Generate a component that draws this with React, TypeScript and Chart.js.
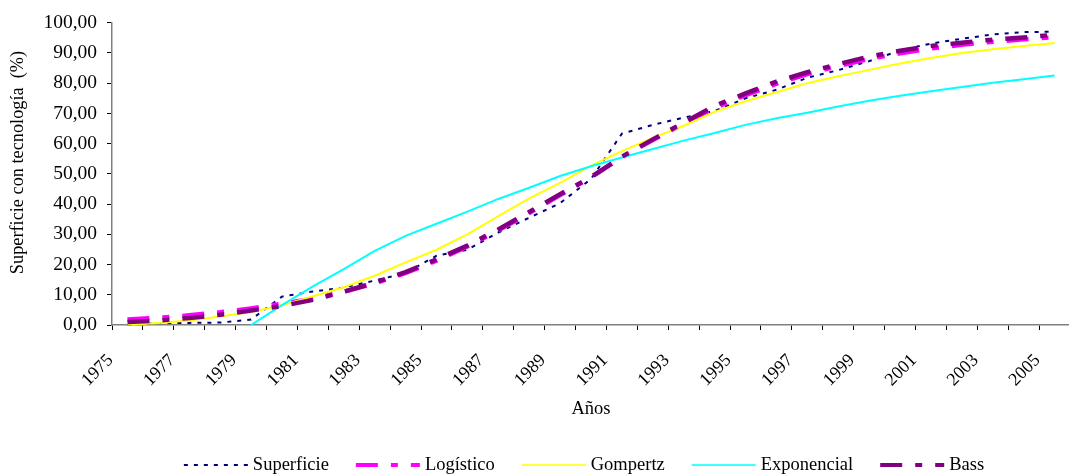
import { useEffect, useRef } from 'react';
import { Chart, registerables } from 'chart.js';

Chart.register(...registerables);

const years = ['1975','1976','1977','1978','1979','1980','1981','1982','1983','1984','1985','1986','1987','1988','1989','1990','1991','1992','1993','1994','1995','1996','1997','1998','1999','2000','2001','2002','2003','2004','2005'];

const superficie = [0, 0.7, 0.7, 0.8, 1.8, 9.4, 11.1, 12.4, 14.7, 17.2, 22.9, 24.9, 30.6, 35.5, 40.3, 48.3, 63.3, 66.2, 68.6, 70.8, 75.0, 77.8, 81.8, 84.3, 87.3, 90.8, 93.1, 94.7, 96.1, 96.9, 97.0];
const logistico = [1.8, 2.4, 3.2, 4.2, 5.5, 7.0, 8.7, 11.0, 13.8, 17.2, 21.3, 26.0, 31.3, 37.0, 43.0, 48.9, 55.5, 61.2, 66.6, 71.8, 76.0, 79.8, 83.0, 85.7, 88.0, 89.9, 91.5, 92.7, 93.7, 94.5, 95.2];
const gompertz = [0.1, 0.7, 1.5, 2.8, 4.3, 6.5, 9.5, 12.5, 16.3, 20.7, 24.9, 30.0, 36.0, 41.9, 47.0, 52.7, 57.5, 61.9, 65.9, 70.5, 74.0, 77.0, 80.0, 82.3, 84.4, 86.5, 88.3, 90.0, 91.2, 92.3, 93.3];
const exponencial = [null, null, null, null, 0, 6.6, 12.8, 18.5, 24.5, 29.5, 33.5, 37.5, 41.7, 45.4, 49.3, 52.5, 55.4, 58.2, 61.0, 63.5, 66.2, 68.4, 70.2, 72.3, 74.2, 75.8, 77.3, 78.7, 80.1, 81.3, 82.5];
const bass = [1.0, 1.5, 2.3, 3.4, 4.8, 6.3, 8.3, 11.0, 14.0, 17.5, 21.7, 26.3, 31.6, 37.4, 43.3, 48.9, 55.7, 61.4, 66.9, 72.5, 76.6, 80.5, 83.6, 86.3, 88.8, 90.7, 92.3, 93.4, 94.4, 95.1, 96.0];

const seriesNames = ['Superficie', 'Logístico', 'Gompertz', 'Exponencial', 'Bass'];
const yTitle = 'Superficie con tecnología  (%)';
const xTitle = 'Años';

const FONT = '"Liberation Serif", "Times New Roman", serif';

const legendWidths = [2, 4, 1.5, 1.5, 4];

const customDraw = {
  id: 'customDraw',
  afterDraw(chart: any) {
    const ctx = chart.ctx as CanvasRenderingContext2D;
    ctx.save();
    ctx.font = `18.5px ${FONT}`;
    const sample = 64, gapText = 5, gapItem = 27;
    const ds = chart.data.datasets as any[];
    const widths = ds.map((d) => ctx.measureText(d.label).width);
    const total = widths.reduce((s, w) => s + sample + gapText + w, 0) + gapItem * (ds.length - 1);
    let x = 584 - total / 2;
    const y = 465;
    ds.forEach((d, i) => {
      ctx.beginPath();
      ctx.setLineDash(d.borderDash || []);
      ctx.lineWidth = legendWidths[i];
      ctx.strokeStyle = d.borderColor;
      ctx.moveTo(x, y);
      ctx.lineTo(x + sample, y);
      ctx.stroke();
      ctx.setLineDash([]);
      ctx.fillStyle = '#000';
      ctx.textBaseline = 'middle';
      ctx.textAlign = 'left';
      ctx.fillText(d.label, x + sample + gapText, y);
      x += sample + gapText + widths[i] + gapItem;
    });
    ctx.font = `18.3px ${FONT}`;
    ctx.translate(18.5, 162.5);
    ctx.rotate(-Math.PI / 2);
    ctx.textAlign = 'center';
    ctx.textBaseline = 'middle';
    ctx.fillStyle = '#000';
    ctx.fillText(yTitle, 0, 0);
    ctx.restore();
  },
};

export default function App() {
  const ref = useRef<HTMLCanvasElement>(null);
  useEffect(() => {
    Chart.defaults.font.family = FONT;
    Chart.defaults.color = '#000';
    const dash = [22, 13, 7, 13];
    const clipAll = { left: 5, right: 5, top: 5, bottom: 3 };
    const chart = new Chart(ref.current!, {
      type: 'line',
      data: {
        labels: years,
        datasets: [
          { label: seriesNames[0], data: superficie, borderColor: '#000080', borderWidth: 2, borderDash: [4, 6], order: 5, clip: clipAll },
          { label: seriesNames[1], data: logistico, borderColor: '#FF00FF', borderWidth: 4.5, borderDash: dash, order: 4, clip: clipAll },
          { label: seriesNames[2], data: gompertz, borderColor: '#FFFF00', borderWidth: 2, order: 3, clip: clipAll },
          { label: seriesNames[3], data: exponencial, borderColor: '#00FFFF', borderWidth: 2, order: 2, clip: { left: 5, right: 5, top: 5, bottom: 0 } },
          { label: seriesNames[4], data: bass, borderColor: '#800080', borderWidth: 4.5, borderDash: dash, order: 1, clip: clipAll },
        ] as any,
      },
      options: {
        animation: false,
        responsive: false,
        maintainAspectRatio: false,
        devicePixelRatio: 1,
        layout: { padding: { left: 0, right: 11, top: 22.7, bottom: 0 } },
        elements: { point: { radius: 0 }, line: { tension: 0, fill: false } },
        plugins: { legend: { display: false }, tooltip: { enabled: false } },
        scales: {
          x: {
            type: 'category',
            offset: true,
            grid: { offset: true, drawOnChartArea: false, drawTicks: true, tickLength: 5, tickColor: '#000', lineWidth: 1 },
            border: { color: '#808080', width: 1.5 },
            ticks: {
              autoSkip: false,
              minRotation: 45,
              maxRotation: 45,
              padding: 20,
              labelOffset: -17,
              font: { size: 18 },
              color: '#000',
              callback: (_v: any, i: number) => (i % 2 === 0 ? years[i] : ''),
            },
            title: { display: true, text: xTitle, font: { size: 18.5 }, color: '#000', padding: { top: 0, bottom: 54 } },
            afterFit: (s: any) => { s.height = 149; },
          },
          y: {
            min: 0,
            max: 100,
            grid: { drawOnChartArea: false, drawTicks: true, tickLength: 5, tickColor: '#000', lineWidth: 1 },
            border: { color: '#808080', width: 1.5 },
            ticks: {
              stepSize: 10,
              padding: 10,
              font: { size: 19.5 },
              color: '#000',
              callback: (v: any) => Number(v).toFixed(2).replace('.', ','),
            },
            afterFit: (s: any) => { s.width = 112; },
          },
        },
      },
      plugins: [customDraw],
    });
    return () => chart.destroy();
  }, []);
  return (
    <div style={{ position: 'fixed', left: 0, top: 0, width: 1069, height: 474, overflow: 'hidden', background: '#fff' }}>
      <canvas ref={ref} width={1090} height={474} style={{ display: 'block', width: 1090, height: 474 }} />
    </div>
  );
}
